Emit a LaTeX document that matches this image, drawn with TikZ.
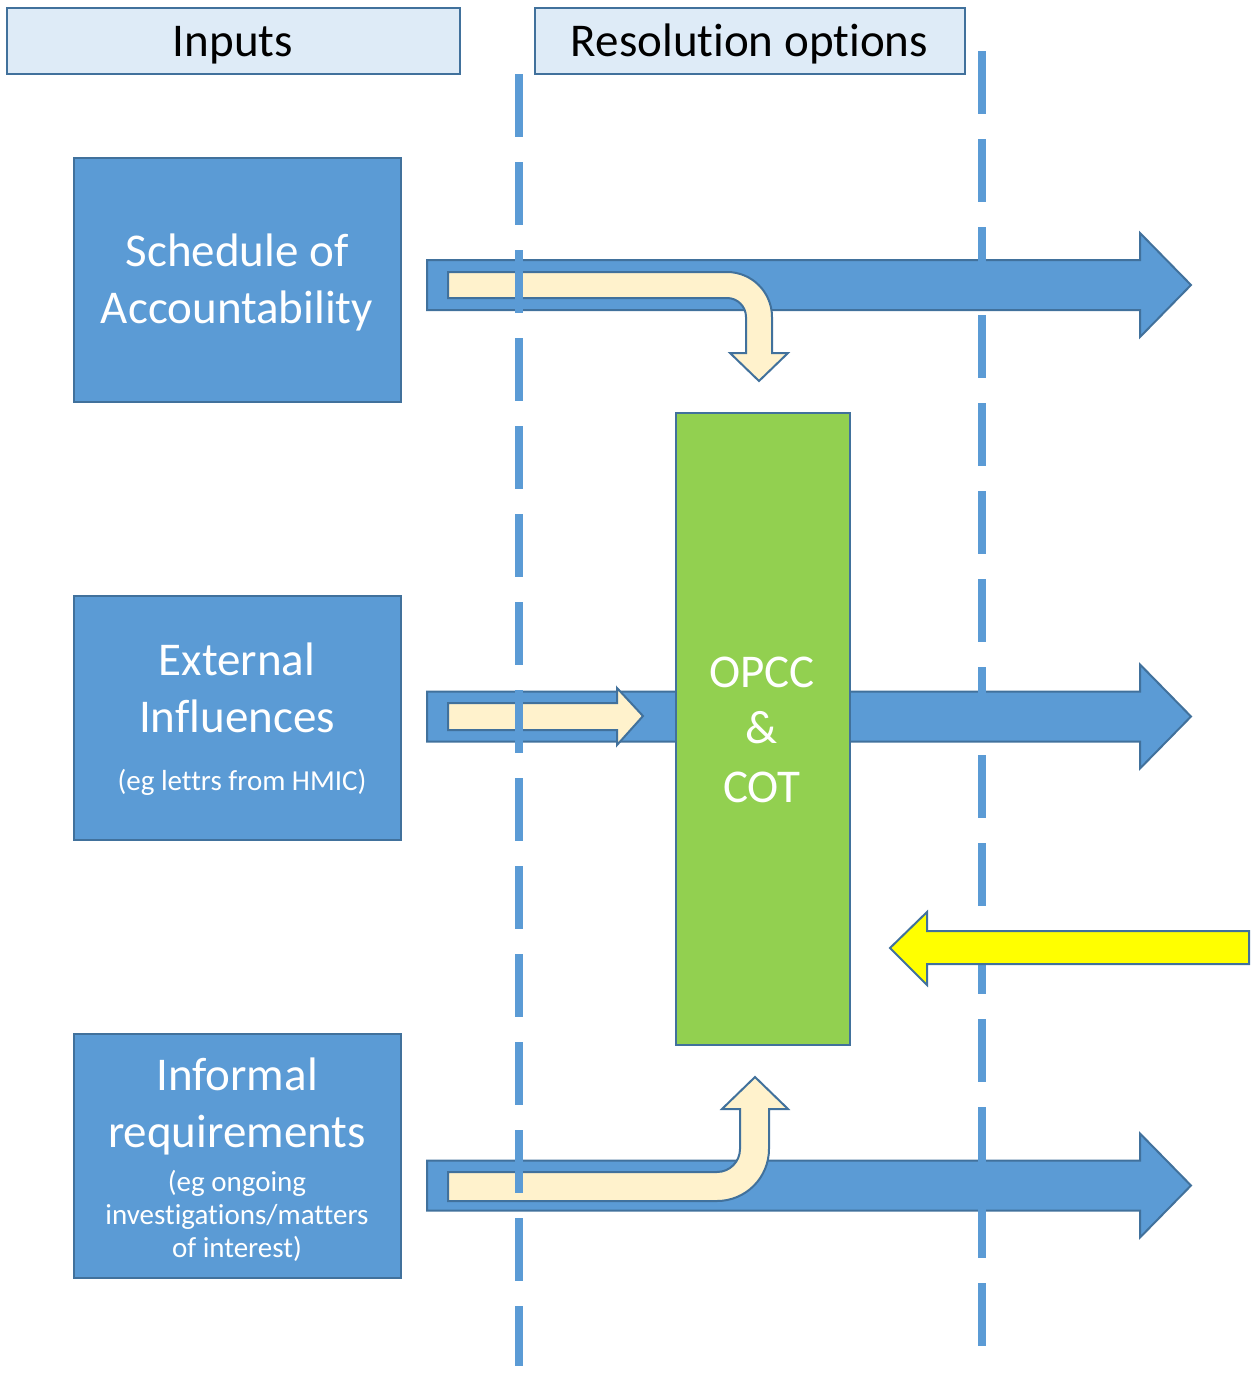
\documentclass[tikz,border=0pt]{standalone}
\usepackage{fontspec}
\setmainfont{Carlito}[Ligatures={NoCommon}]
\definecolor{accblue}{HTML}{5B9BD5}
\definecolor{edgeblue}{HTML}{41719C}
\definecolor{headfill}{HTML}{DEEBF7}
\definecolor{opccgreen}{HTML}{92D050}
\definecolor{creamfill}{HTML}{FFF2CC}
\definecolor{signalyellow}{HTML}{FFFF00}
\begin{document}
\begin{tikzpicture}[x=1pt,y=-1pt,
  headbox/.style={draw=edgeblue, line width=2pt, fill=headfill, inner sep=0pt, minimum height=66pt},
  inbox/.style={draw=edgeblue, line width=2pt, fill=accblue, inner sep=0pt, minimum width=327pt, minimum height=244pt},
  bigtxt/.style={anchor=base, inner sep=0pt, font=\fontsize{47}{57}\selectfont},
  smalltxt/.style={anchor=base, inner sep=0pt, font=\fontsize{29}{34}\selectfont},
  blocky/.style={draw=edgeblue, line width=2pt, line join=miter},
  divider/.style={draw=accblue, line width=8pt, dash pattern=on 63pt off 25pt},
  flowarrow/.pic={
    \path[blocky, fill=accblue] (0,-25) -- (713,-25) -- (713,-52) -- (764,0)
      -- (713,52) -- (713,25) -- (0,25) -- cycle;
  }]
\useasboundingbox (0,0) rectangle (1256,1373);

% column headers
\node[headbox, minimum width=453pt] (inputs) at (233,40.5) {};
\node[bigtxt, text=black] (inputs-t) at (233,56) {Inputs};
\node[headbox, minimum width=430pt] (resol) at (749.5,40.5) {};
\node[bigtxt, text=black] (resol-t) at (749.5,56) {Resolution options};

% input boxes
\node[inbox] (sched) at (237,279.5) {};
\node[bigtxt, text=white] (sched-t1) at (237,266) {Schedule of};
\node[bigtxt, text=white] (sched-t2) at (237,323) {Accountability};

\node[inbox] (extern) at (237,718) {};
\node[bigtxt, text=white] (extern-t1) at (237,675) {External};
\node[bigtxt, text=white] (extern-t2) at (237,732) {Influences};
\node[smalltxt, text=white] (extern-t3) at (242,790) {(eg lettrs from HMIC)};

\node[inbox] (inform) at (237,1156) {};
\node[bigtxt, text=white] (inform-t1) at (237,1090) {Informal};
\node[bigtxt, text=white] (inform-t2) at (237,1147) {requirements};
\node[smalltxt, text=white] (inform-t3) at (237,1191) {(eg ongoing};
\node[smalltxt, text=white] (inform-t4) at (237,1224) {investigations/matters};
\node[smalltxt, text=white] (inform-t5) at (237,1257) {of interest)};

% wide flow arrows
\pic (flowA) at (427,285) {flowarrow};
\pic (flowB) at (427,716.5) {flowarrow};
\pic (flowC) at (427,1185.5) {flowarrow};

% central body
\node[draw=edgeblue, line width=2pt, fill=opccgreen, inner sep=0pt,
      minimum width=174pt, minimum height=632pt] (opcc) at (762.5,728.5) {};
\node[bigtxt, text=white] (opcc-t1) at (762,687) {OPCC};
\node[bigtxt, text=white] (opcc-t2) at (762,743) {\&};
\node[bigtxt, text=white] (opcc-t3) at (762,802) {COT};

% cream feed arrows
\path[blocky, fill=creamfill] (448,272) -- (727,272) arc[start angle=-90, end angle=0, radius=45]
  -- (772,353) -- (788,353) -- (759,381) -- (730,353) -- (746,353) -- (746,317)
  arc[start angle=0, end angle=-90, radius=19] -- (448,298) -- cycle;

\path[blocky, fill=creamfill] (448,703) -- (617,703) -- (617,688) -- (643,716)
  -- (617,745) -- (617,730) -- (448,730) -- cycle;

\path[blocky, fill=creamfill] (448,1172) -- (717,1172) arc[start angle=90, end angle=0, radius=23]
  -- (740,1109) -- (722,1109) -- (755,1077) -- (788,1109) -- (769,1109) -- (769,1149)
  arc[start angle=0, end angle=90, radius=52] -- (448,1201) -- cycle;

% column dividers
\coordinate (divL-top) at (519,74);
\coordinate (divL-bot) at (519,1366);
\coordinate (divR-top) at (982,51);
\coordinate (divR-bot) at (982,1348);
\draw[divider] (divL-top) -- (divL-bot);
\draw[divider] (divR-top) -- (divR-bot);

% incoming arrow from the right
\path[blocky, fill=signalyellow] (1249,931) -- (927,931) -- (927,912) -- (890,948)
  -- (927,985) -- (927,964) -- (1249,964) -- cycle;
\end{tikzpicture}
\end{document}
